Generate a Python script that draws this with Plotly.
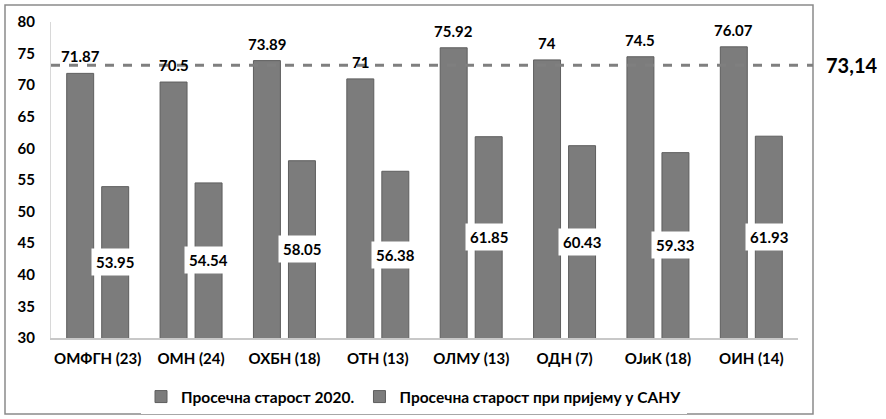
import plotly.graph_objects as go

categories = ["ОМФГН (23)", "ОМН (24)", "ОХБН (18)", "ОТН (13)",
              "ОЛМУ (13)", "ОДН (7)", "ОЈиК (18)", "ОИН (14)"]
age_2020 = [71.87, 70.5, 73.89, 71, 75.92, 74, 74.5, 76.07]
age_admission = [53.95, 54.54, 58.05, 56.38, 61.85, 60.43, 59.33, 61.93]
mean_age = 73.14
mean_label = "73,14"
series_names = ["Просечна старост 2020.", "Просечна старост при пријему у САНУ"]

W, H = 886, 419
ML, MR, MT, MB = 51, 88, 22, 81
PW, PH = W - ML - MR, H - MT - MB

font = "Lato, 'Open Sans', sans-serif"
bar_fill = "#7c7c7c"
bar_edge = "#5e5e5e"
label_font = dict(family=font, size=15, color="black", weight="bold")

fig = go.Figure()
fig.add_bar(x=categories, y=age_2020, name=series_names[0],
            marker=dict(color=bar_fill, line=dict(color=bar_edge, width=1)))
fig.add_bar(x=categories, y=age_admission, name=series_names[1],
            marker=dict(color=bar_fill, line=dict(color=bar_edge, width=1)))

# value labels above the 2020 bars
for c, v in zip(categories, age_2020):
    fig.add_annotation(x=c, y=v, text=str(v), showarrow=False, yanchor="bottom",
                       xshift=-17.5, yshift=6, font=label_font)

# white-boxed labels in the middle of the admission bars
for c, v in zip(categories, age_admission):
    fig.add_annotation(x=c, y=(30 + v) / 2, text=f"{v:.2f}", showarrow=False,
                       xshift=17.5, bgcolor="white", borderpad=4, font=label_font)

# average line and its label
fig.add_shape(type="line", xref="paper", yref="y", x0=0, x1=(813 - ML) / PW,
              y0=mean_age, y1=mean_age,
              line=dict(color="#7f7f7f", width=3, dash="dash"))
fig.add_annotation(xref="paper", yref="y", x=(824 - ML) / PW, y=mean_age,
                   text=mean_label, showarrow=False, xanchor="left",
                   font=dict(family=font, size=20, color="black", weight="bold"))

# outer chart border
fig.add_shape(type="rect", xref="paper", yref="paper",
              x0=(5 - ML) / PW, x1=(813 - ML) / PW,
              y0=1 - (414 - MT) / PH, y1=1 - (5 - MT) / PH,
              line=dict(color="#8a8a8a", width=1.5), layer="below")

fig.update_layout(
    width=W, height=H, margin=dict(l=ML, r=MR, t=MT, b=MB, autoexpand=False),
    paper_bgcolor="white", plot_bgcolor="white",
    barmode="group", bargap=0.25, bargroupgap=0.23,
    font=dict(family=font, size=14, color="black"),
    showlegend=True,
    legend=dict(orientation="h", x=(414 - ML) / PW, xanchor="center",
                yref="container", y=(H - 397) / H, yanchor="middle",
                font=dict(family=font, size=15.5, weight="bold"),
                itemwidth=30, traceorder="normal"),
)
fig.update_xaxes(showline=True, linecolor="#c8c8c8", linewidth=1.5, ticks="",
                 ticklabelstandoff=6,
                 tickfont=dict(family=font, size=15, weight="bold"))
fig.update_yaxes(range=[30, 80], dtick=5, showgrid=False, zeroline=False,
                 showline=True, linecolor="#d8d8d8", linewidth=1, ticks="",
                 ticklabelstandoff=12,
                 tickfont=dict(family=font, size=15, weight="bold"))

fig.write_html("out.html", config={"displayModeBar": False},
               post_script="document.body.style.margin='0';")
